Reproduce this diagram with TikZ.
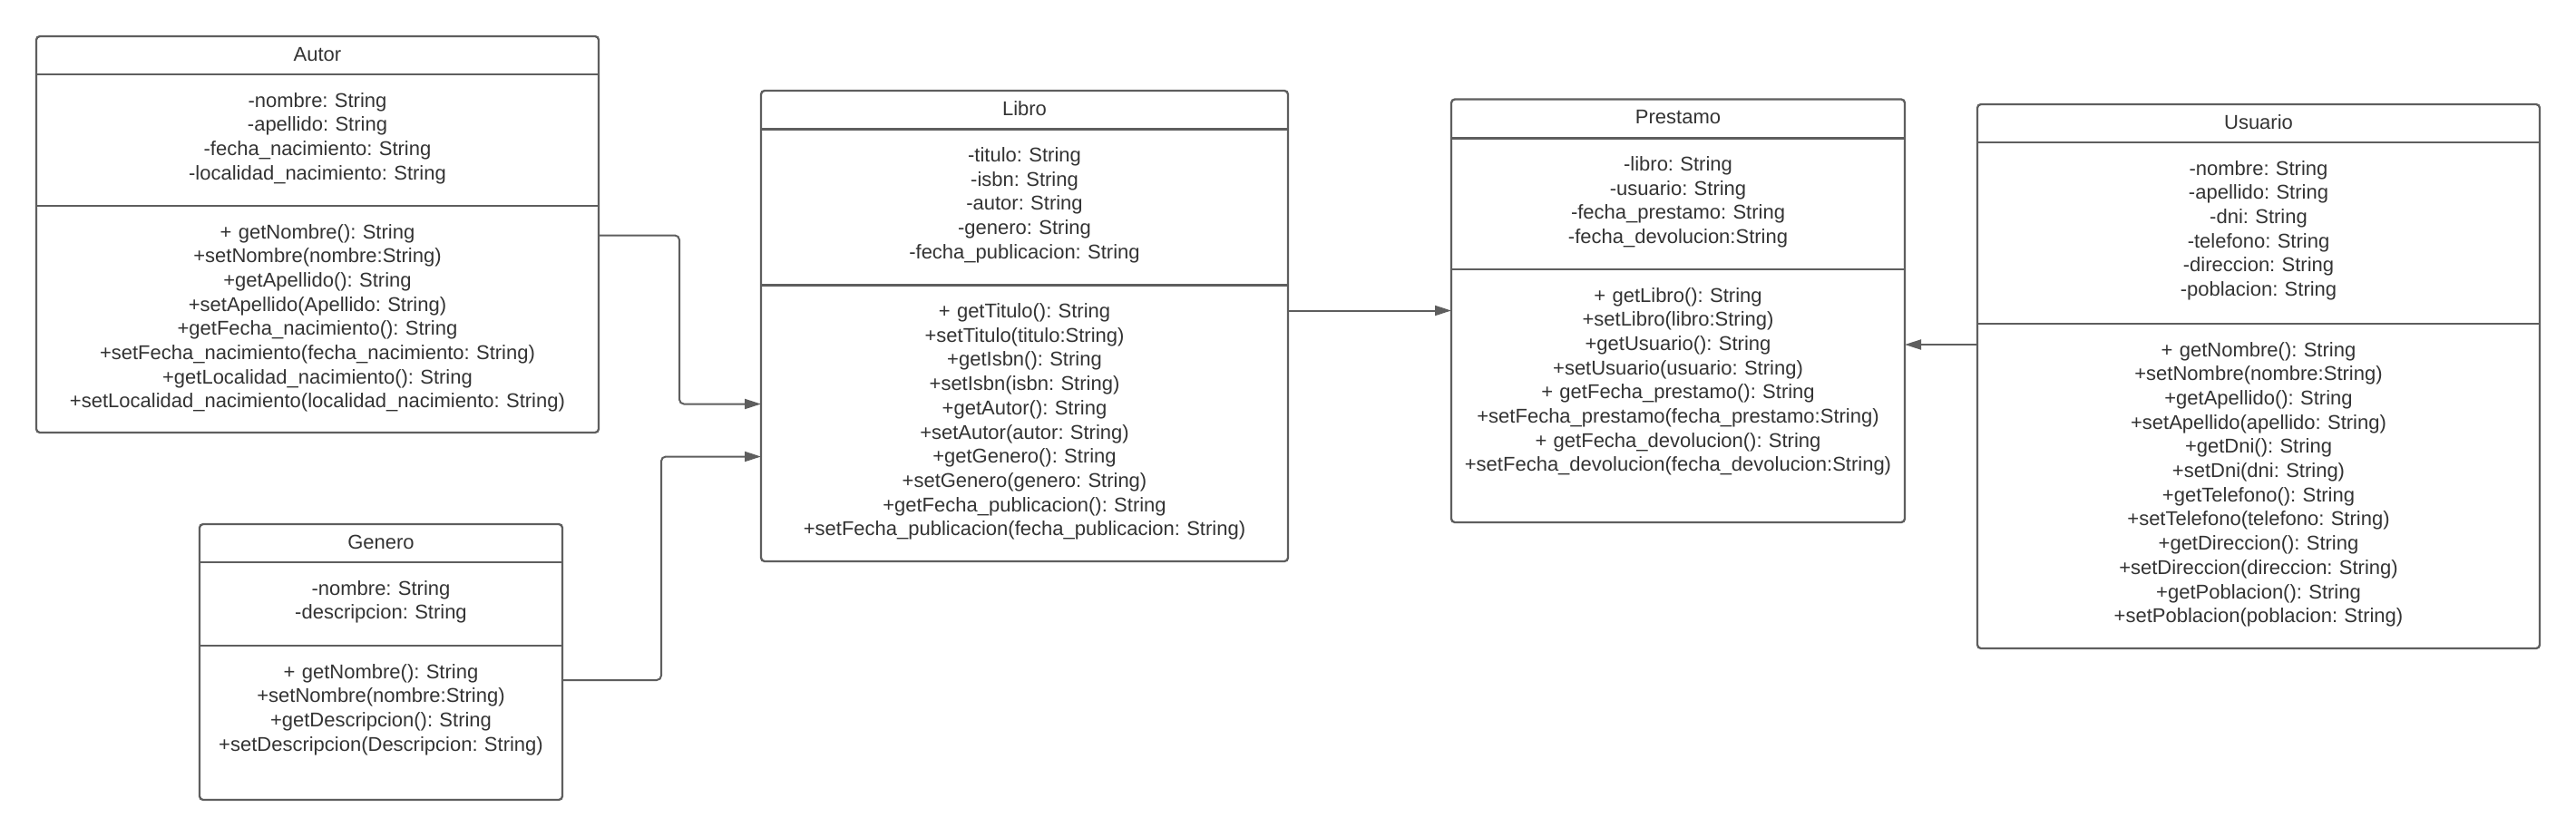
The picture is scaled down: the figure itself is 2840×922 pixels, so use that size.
\documentclass[tikz,border=0pt]{standalone}
\usepackage{xcolor}
\usepackage{fontspec}
\setmainfont{Liberation Sans}
\usepackage{tikz}
\usetikzlibrary{positioning,arrows.meta}
\definecolor{linegray}{HTML}{5E5E5E}
\definecolor{textgray}{HTML}{333333}
\frenchspacing

\begin{document}
\begin{tikzpicture}[x=1pt, y=-1pt, every node/.style={font=\fontsize{22}{26.7}\selectfont, text=textgray, inner sep=0pt, outer sep=0pt, align=center},
    classframe/.style={draw=linegray, line width=2.3pt, rounded corners=4pt},
    classline/.style={draw=linegray, line width=2.3pt},
    conn/.style={draw=linegray, line width=2pt, rounded corners=5pt, -{Triangle[length=18pt,width=11pt]}}]
    \useasboundingbox (0,0) rectangle (2840,922);

    % Autor
    \node[anchor=north west, text width=620pt, text height=27pt, text depth=15pt] (autorT) at (40,40) {Autor};
    \node[below=0pt of autorT, text width=620pt, text height=36pt, text depth=109pt] (autorA) {-nombre: String\\-apellido: String\\-fecha\_nacimiento: String\\-localidad\_nacimiento: String};
    \node[below=0pt of autorA, text width=620pt, text height=36pt, text depth=214pt] (autorM) {+ getNombre(): String\\+setNombre(nombre:String)\\+getApellido(): String\\+setApellido(Apellido: String)\\+getFecha\_nacimiento(): String\\+setFecha\_nacimiento(fecha\_nacimiento: String)\\+getLocalidad\_nacimiento(): String\\+setLocalidad\_nacimiento(localidad\_nacimiento: String)};
    \draw[classline] (autorA.north west) -- (autorA.north east);
    \draw[classline] (autorM.north west) -- (autorM.north east);
    \draw[classframe] (autorT.north west) rectangle (autorM.south east);

    % Genero
    \node[anchor=north west, text width=400pt, text height=27pt, text depth=15pt] (generoT) at (220,578) {Genero};
    \node[below=0pt of generoT, text width=400pt, text height=36pt, text depth=56pt] (generoA) {-nombre: String\\-descripcion: String};
    \node[below=0pt of generoA, text width=400pt, text height=36pt, text depth=134pt] (generoM) {+ getNombre(): String\\+setNombre(nombre:String)\\+getDescripcion(): String\\+setDescripcion(Descripcion: String)};
    \draw[classline] (generoA.north west) -- (generoA.north east);
    \draw[classline] (generoM.north west) -- (generoM.north east);
    \draw[classframe] (generoT.north west) rectangle (generoM.south east);

    % Libro
    \node[anchor=north west, text width=581pt, text height=27pt, text depth=15.5pt] (libroT) at (839,100) {Libro};
    \node[below=0pt of libroT, text width=581pt, text height=36pt, text depth=136pt] (libroA) {-titulo: String\\-isbn: String\\-autor: String\\-genero: String\\-fecha\_publicacion: String};
    \node[below=0pt of libroA, text width=581pt, text height=36pt, text depth=268.5pt] (libroM) {+ getTitulo(): String\\+setTitulo(titulo:String)\\+getIsbn(): String\\+setIsbn(isbn: String)\\+getAutor(): String\\+setAutor(autor: String)\\+getGenero(): String\\+setGenero(genero: String)\\+getFecha\_publicacion(): String\\+setFecha\_publicacion(fecha\_publicacion: String)};
    \draw[classline] (libroA.north west) -- (libroA.north east);
    \draw[classline] (libroM.north west) -- (libroM.north east);
    \draw[classframe] (libroT.north west) rectangle (libroM.south east);

    % Prestamo
    \node[anchor=north west, text width=500pt, text height=27pt, text depth=16pt] (prestamoT) at (1600,109.5) {Prestamo};
    \node[below=0pt of prestamoT, text width=500pt, text height=36pt, text depth=108.5pt] (prestamoA) {-libro: String\\-usuario: String\\-fecha\_prestamo: String\\-fecha\_devolucion:String};
    \node[below=0pt of prestamoA, text width=500pt, text height=36pt, text depth=243pt] (prestamoM) {+ getLibro(): String\\+setLibro(libro:String)\\+getUsuario(): String\\+setUsuario(usuario: String)\\+ getFecha\_prestamo(): String\\+setFecha\_prestamo(fecha\_prestamo:String)\\+ getFecha\_devolucion(): String\\+setFecha\_devolucion(fecha\_devolucion:String)};
    \draw[classline] (prestamoA.north west) -- (prestamoA.north east);
    \draw[classline] (prestamoM.north west) -- (prestamoM.north east);
    \draw[classframe] (prestamoT.north west) rectangle (prestamoM.south east);

    % Usuario
    \node[anchor=north west, text width=620pt, text height=27pt, text depth=15pt] (usuarioT) at (2180,115) {Usuario};
    \node[below=0pt of usuarioT, text width=620pt, text height=36pt, text depth=164pt] (usuarioA) {-nombre: String\\-apellido: String\\-dni: String\\-telefono: String\\-direccion: String\\-poblacion: String};
    \node[below=0pt of usuarioA, text width=620pt, text height=36pt, text depth=322pt] (usuarioM) {+ getNombre(): String\\+setNombre(nombre:String)\\+getApellido(): String\\+setApellido(apellido: String)\\+getDni(): String\\+setDni(dni: String)\\+getTelefono(): String\\+setTelefono(telefono: String)\\+getDireccion(): String\\+setDireccion(direccion: String)\\+getPoblacion(): String\\+setPoblacion(poblacion: String)};
    \draw[classline] (usuarioA.north west) -- (usuarioA.north east);
    \draw[classline] (usuarioM.north west) -- (usuarioM.north east);
    \draw[classframe] (usuarioT.north west) rectangle (usuarioM.south east);

    % connectors
    \draw[conn] ([yshift=-32.5pt]autorM.north east) -- ++(89,0) |- ([yshift=-131pt]libroM.north west);
    \draw[conn] ([yshift=-38pt]generoM.north east) -- ++(109,0) |- ([yshift=-189pt]libroM.north west);
    \coordinate (lp) at ([yshift=-28pt]libroM.north east);
    \draw[conn] (lp) -- (lp -| prestamoM.west);
    \coordinate (up) at ([yshift=-23pt]usuarioM.north west);
    \draw[conn] (up) -- (up -| prestamoM.east);
\end{tikzpicture}
\end{document}
